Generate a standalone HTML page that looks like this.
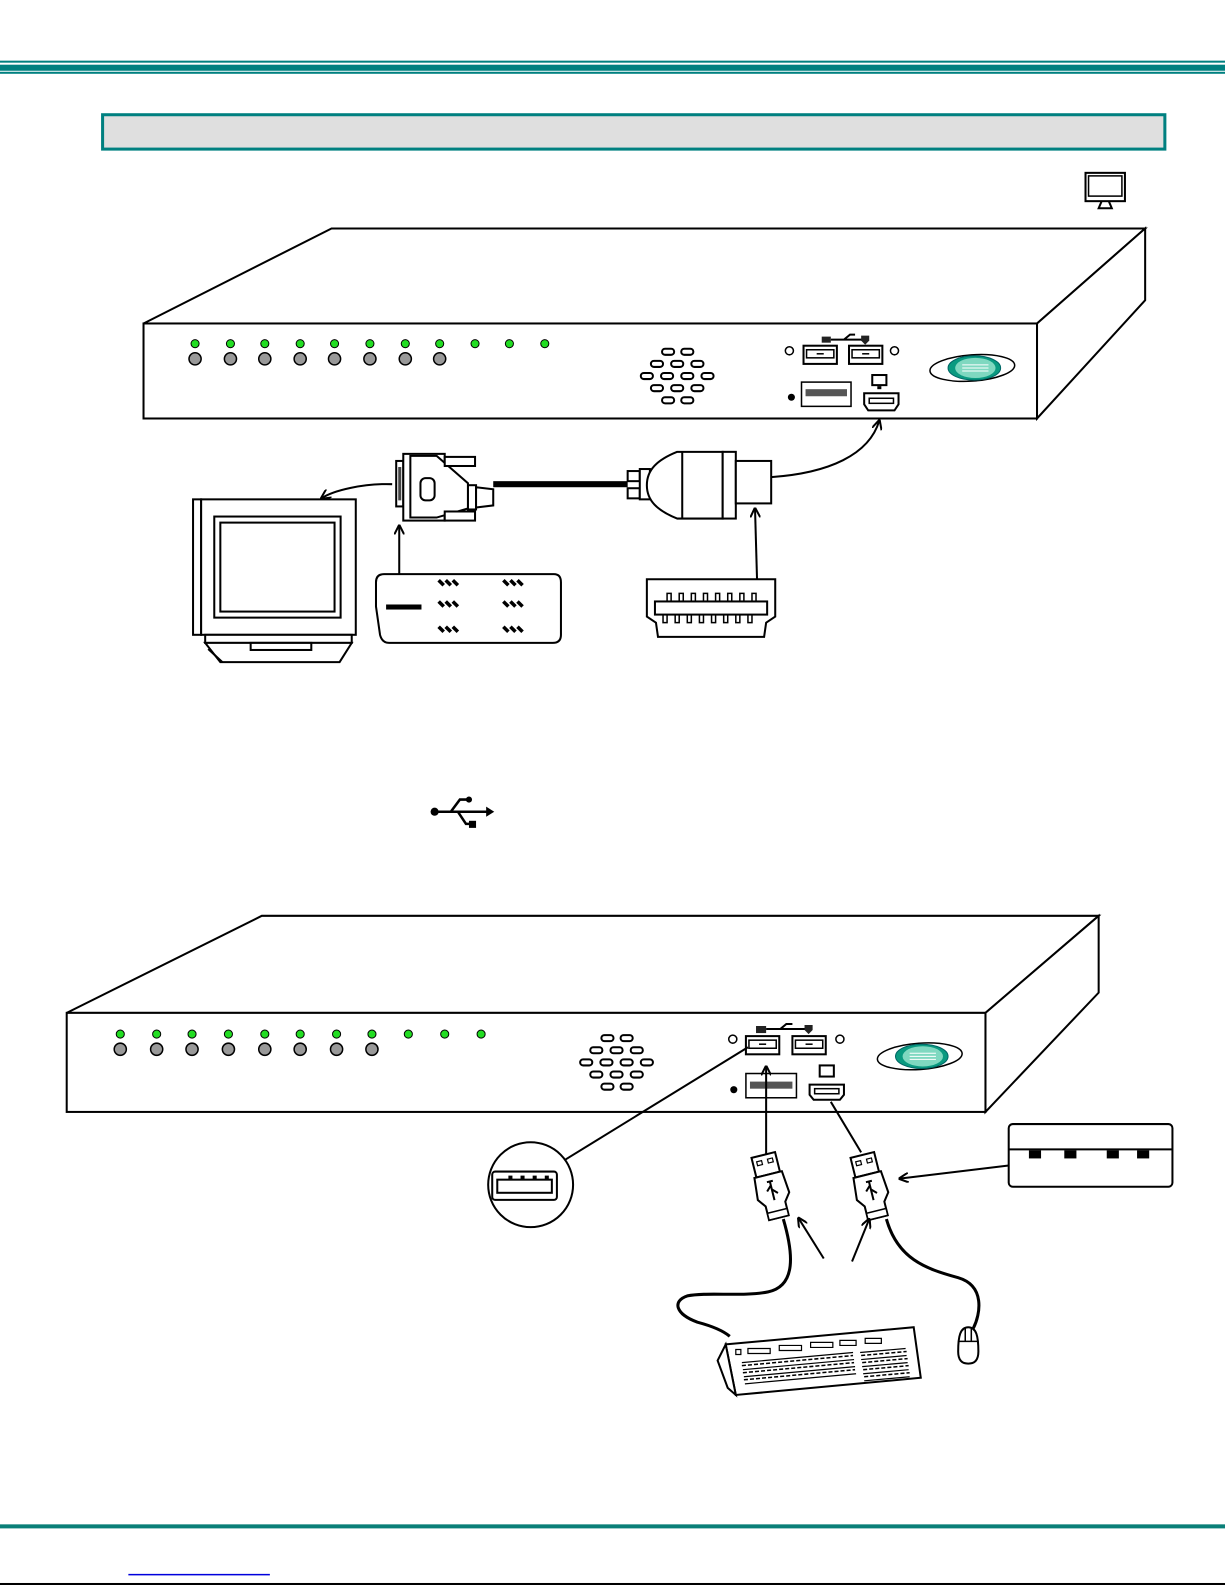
<!DOCTYPE html>
<html><head><meta charset="utf-8"><style>
html,body{margin:0;padding:0;background:#fff;}
svg{display:block;}
</style></head><body>
<svg width="1225" height="1585" viewBox="0 0 1212 1568" preserveAspectRatio="none" xmlns="http://www.w3.org/2000/svg" font-family="Liberation Sans, sans-serif">
<defs>
<marker id="ah" markerWidth="10" markerHeight="10" refX="9" refY="5" orient="auto" markerUnits="userSpaceOnUse">
<path d="M0,0 L10,5 L0,10" fill="none" stroke="#000" stroke-width="2"/>
</marker>
<g id="spk" fill="#fff" stroke="#000" stroke-width="2">
<rect x="-9" y="-3" width="12" height="6" rx="3"/><rect x="10" y="-3" width="12" height="6" rx="3"/>
<rect x="-20" y="9" width="12" height="6" rx="3"/><rect x="0" y="9" width="12" height="6" rx="3"/><rect x="20" y="9" width="12" height="6" rx="3"/>
<rect x="-30" y="21" width="12" height="6" rx="3"/><rect x="-10" y="21" width="12" height="6" rx="3"/><rect x="10" y="21" width="12" height="6" rx="3"/><rect x="30" y="21" width="12" height="6" rx="3"/>
<rect x="-20" y="33" width="12" height="6" rx="3"/><rect x="0" y="33" width="12" height="6" rx="3"/><rect x="20" y="33" width="12" height="6" rx="3"/>
<rect x="-9" y="45" width="12" height="6" rx="3"/><rect x="10" y="45" width="12" height="6" rx="3"/>
</g>
<g id="usbp">
<rect x="0" y="0" width="33" height="18" fill="#fff" stroke="#000" stroke-width="2"/>
<rect x="3" y="4" width="27" height="8" fill="#fff" stroke="#000" stroke-width="1.5"/>
<line x1="13" y1="8" x2="20" y2="8" stroke="#000" stroke-width="1.5"/>
</g>
<g id="logo">
<ellipse cx="0" cy="0" rx="42" ry="13" fill="none" stroke="#000" stroke-width="1.5" transform="rotate(-4)"/>
<ellipse cx="2" cy="0" rx="26" ry="12" fill="#0a9a80" stroke="#066" stroke-width="1"/>
<ellipse cx="3" cy="0" rx="20" ry="10" fill="#7fd8c0"/>
<line x1="-10" y1="-3" x2="16" y2="-3" stroke="#fff" stroke-width="1"/><line x1="-10" y1="0" x2="16" y2="0" stroke="#fff" stroke-width="1"/><line x1="-10" y1="3" x2="16" y2="3" stroke="#fff" stroke-width="1"/>
</g>
<g id="plug">
<rect x="-12" y="-20" width="24" height="20" fill="#fff" stroke="#000" stroke-width="2"/>
<rect x="-8" y="-15" width="5" height="4" fill="none" stroke="#000" stroke-width="1.2"/><rect x="3" y="-15" width="5" height="4" fill="none" stroke="#000" stroke-width="1.2"/>
<path d="M-14,0 L14,0 L16,22 L10,30 L10,44 L-10,44 L-10,30 L-16,22 Z" fill="#fff" stroke="#000" stroke-width="2"/>
<path d="M0,6 L0,26 M0,11 L-5,16 M0,15 L5,20 M-3,7 L3,7" stroke="#000" stroke-width="2" fill="none"/>
<rect x="-10" y="37" width="20" height="7" fill="#fff" stroke="#000" stroke-width="1.5"/>
</g>
</defs>

<rect x="0" y="60" width="1212" height="2" fill="#008080"/>
<rect x="0" y="64" width="1212" height="6" fill="#008080"/>
<rect x="0" y="71" width="1212" height="2" fill="#008080"/>
<rect x="101.5" y="113.5" width="1051" height="34" fill="#dfdfdf" stroke="#008080" stroke-width="3"/>

<rect x="1074" y="171" width="39" height="28" fill="#fff" stroke="#000" stroke-width="2"/>
<rect x="1077" y="174" width="33" height="20" fill="#fff" stroke="#000" stroke-width="1.5"/>
<path d="M1090,199 L1087,206 L1100,206 L1097,199" fill="none" stroke="#000" stroke-width="2"/>

<!-- TOP DEVICE -->
<g stroke="#000" stroke-width="2" fill="#fff">
<polygon points="142,320 328,226 1133,226 1026,320"/>
<polygon points="1026,320 1133,226 1133,297 1026,414"/>
<rect x="142" y="320" width="884" height="94"/>
</g>
<g fill="#22dd22" stroke="#000" stroke-width="1">
<circle cx="193" cy="340" r="4"/><circle cx="228" cy="340" r="4"/><circle cx="262" cy="340" r="4"/><circle cx="297" cy="340" r="4"/><circle cx="331" cy="340" r="4"/><circle cx="366" cy="340" r="4"/><circle cx="401" cy="340" r="4"/><circle cx="435" cy="340" r="4"/><circle cx="470" cy="340" r="4"/><circle cx="504" cy="340" r="4"/><circle cx="539" cy="340" r="4"/>
</g>
<g fill="#999" stroke="#000" stroke-width="1.5">
<circle cx="193" cy="355" r="6"/><circle cx="228" cy="355" r="6"/><circle cx="262" cy="355" r="6"/><circle cx="297" cy="355" r="6"/><circle cx="331" cy="355" r="6"/><circle cx="366" cy="355" r="6"/><circle cx="401" cy="355" r="6"/><circle cx="435" cy="355" r="6"/>
</g>
<use href="#spk" x="664" y="348"/>
<use href="#usbp" x="795" y="342"/><use href="#usbp" x="840" y="342"/>
<circle cx="781" cy="347" r="4" fill="#fff" stroke="#000" stroke-width="1.5"/>
<circle cx="885" cy="347" r="4" fill="#fff" stroke="#000" stroke-width="1.5"/>
<rect x="813" y="333" width="9" height="6" fill="#222"/>
<path d="M822,336 L856,336 M835,336 L841,331 L846,331" stroke="#000" stroke-width="2" fill="none"/>
<path d="M852,332 L860,332 L860,337 L856,341 L852,337 Z" fill="#222"/>
<rect x="793" y="378" width="49" height="24" fill="#fff" stroke="#000" stroke-width="1.5"/>
<rect x="797" y="385" width="41" height="7" fill="#555"/>
<circle cx="783" cy="393" r="3.5" fill="#000"/>
<rect x="862" y="370" width="16" height="12" fill="#000"/><rect x="864" y="372" width="12" height="8" fill="#fff"/><rect x="868" y="382" width="4" height="3" fill="#000"/>
<path d="M855,389 L889,389 L889,400 L885,406 L859,406 L855,400 Z" fill="#fff" stroke="#000" stroke-width="2"/>
<rect x="860" y="394" width="24" height="5" fill="none" stroke="#000" stroke-width="1.5"/>
<use href="#logo" x="962" y="364"/>

<!-- monitor -->
<g stroke="#000" stroke-width="2" fill="#fff">
<rect x="191" y="494" width="8" height="134"/>
<rect x="199" y="494" width="153" height="134"/>
<rect x="212" y="511" width="125" height="100"/>
<rect x="218" y="517" width="113" height="88"/>
<rect x="203" y="628" width="145" height="8"/>
<polygon points="203,636 348,636 336,655 218,655"/>
<rect x="248" y="636" width="60" height="7"/>
<line x1="206" y1="642" x2="220" y2="655"/>
</g>
<path d="M388,479 C360,478 330,485 318,493" fill="none" stroke="#000" stroke-width="2" marker-end="url(#ah)"/>

<!-- DVI connector -->
<g stroke="#000" stroke-width="2" fill="#fff">
<rect x="392" y="456" width="7" height="45"/>
<rect x="399" y="449" width="41" height="66"/>
<polygon points="406,451 432,451 463,478 463,503 432,512 406,512"/>
<rect x="440" y="452" width="30" height="9"/><rect x="440" y="506" width="30" height="9"/>
<rect x="463" y="480" width="8" height="24"/>
<polygon points="471,482 488,484 488,500 471,502"/>
<rect x="416" y="473" width="14" height="22" rx="5"/>
</g>
<rect x="394" y="462" width="3" height="33" fill="#444"/>
<rect x="488" y="476" width="133" height="6" fill="#000"/>

<!-- HDMI plug -->
<g stroke="#000" stroke-width="2" fill="#fff">
<rect x="621" y="466" width="12" height="10"/><rect x="621" y="483" width="12" height="10"/>
<rect x="633" y="464" width="10" height="30"/>
<path d="M670,447 L715,447 L715,513 L670,513 C650,505 640,495 640,480 C640,465 650,455 670,447 Z"/>
<line x1="675" y1="447" x2="675" y2="513"/>
<rect x="715" y="447" width="13" height="66"/>
<rect x="728" y="456" width="35" height="42"/>
</g>
<path d="M763,472 C820,468 860,450 870,416" fill="none" stroke="#000" stroke-width="2" marker-end="url(#ah)"/>

<!-- DVI pinout -->
<path d="M380,568 L548,568 Q555,568 555,576 L555,628 Q555,636 547,636 L385,636 Q378,636 376,628 L372,600 L372,576 Q372,568 380,568 Z" fill="#fff" stroke="#000" stroke-width="2"/>
<rect x="382" y="598" width="35" height="5" fill="#000"/>
<g stroke="#000" stroke-width="3.5">
<path d="M434,574 l5,5 M441,574 l5,5 M448,574 l5,5 M498,574 l5,5 M505,574 l5,5 M512,574 l5,5"/>
<path d="M434,595 l5,5 M441,595 l5,5 M448,595 l5,5 M498,595 l5,5 M505,595 l5,5 M512,595 l5,5"/>
<path d="M434,620 l5,5 M441,620 l5,5 M448,620 l5,5 M498,620 l5,5 M505,620 l5,5 M512,620 l5,5"/>
</g>
<line x1="395" y1="568" x2="395" y2="520" stroke="#000" stroke-width="2" marker-end="url(#ah)"/>

<!-- HDMI pinout -->
<path d="M640,573 L767,573 L767,610 L758,616 L756,630 L651,630 L649,616 L640,610 Z" fill="#fff" stroke="#000" stroke-width="2"/>
<rect x="648" y="595" width="111" height="13" fill="#fff" stroke="#000" stroke-width="2"/>
<g fill="none" stroke="#000" stroke-width="1.5">
<path d="M660,595v-8h4v8 M672,595v-8h4v8 M684,595v-8h4v8 M696,595v-8h4v8 M708,595v-8h4v8 M720,595v-8h4v8 M732,595v-8h4v8 M744,595v-8h4v8"/>
<path d="M656,608v8h4v-8 M668,608v8h4v-8 M680,608v8h4v-8 M692,608v8h4v-8 M704,608v8h4v-8 M716,608v8h4v-8 M728,608v8h4v-8 M740,608v8h4v-8"/>
</g>
<line x1="749" y1="573" x2="747" y2="503" stroke="#000" stroke-width="2" marker-end="url(#ah)"/>

<!-- USB symbol -->
<g stroke="#000" stroke-width="2.5" fill="none">
<line x1="430" y1="803" x2="482" y2="803"/>
<path d="M446,803 L455,791 L462,791"/>
<path d="M453,803 L461,815 L466,815"/>
</g>
<circle cx="430" cy="803" r="4" fill="#000"/>
<circle cx="464" cy="791" r="3" fill="#000"/>
<rect x="464" y="812" width="7" height="7" fill="#000"/>
<path d="M481,798 L489,803 L481,808 Z" fill="#000"/>

<!-- BOTTOM DEVICE -->
<g stroke="#000" stroke-width="2" fill="#fff">
<polygon points="66,1002 259,906 1087,906 975,1002"/>
<polygon points="975,1002 1087,906 1087,982 975,1100"/>
<rect x="66" y="1002" width="909" height="98"/>
</g>
<g fill="#22dd22" stroke="#000" stroke-width="1">
<circle cx="119" cy="1023" r="4"/><circle cx="155" cy="1023" r="4"/><circle cx="190" cy="1023" r="4"/><circle cx="226" cy="1023" r="4"/><circle cx="262" cy="1023" r="4"/><circle cx="297" cy="1023" r="4"/><circle cx="333" cy="1023" r="4"/><circle cx="368" cy="1023" r="4"/><circle cx="404" cy="1023" r="4"/><circle cx="440" cy="1023" r="4"/><circle cx="476" cy="1023" r="4"/>
</g>
<g fill="#999" stroke="#000" stroke-width="1.5">
<circle cx="119" cy="1038" r="6"/><circle cx="155" cy="1038" r="6"/><circle cx="190" cy="1038" r="6"/><circle cx="226" cy="1038" r="6"/><circle cx="262" cy="1038" r="6"/><circle cx="297" cy="1038" r="6"/><circle cx="333" cy="1038" r="6"/><circle cx="368" cy="1038" r="6"/>
</g>
<use href="#spk" x="604" y="1027"/>
<use href="#usbp" x="738" y="1025"/><use href="#usbp" x="784" y="1025"/>
<circle cx="725" cy="1028" r="4" fill="#fff" stroke="#000" stroke-width="1.5"/>
<circle cx="831" cy="1028" r="4" fill="#fff" stroke="#000" stroke-width="1.5"/>
<rect x="748" y="1015" width="10" height="7" fill="#222"/>
<path d="M758,1018 L800,1018 M772,1018 L778,1013 L784,1013" stroke="#000" stroke-width="2" fill="none"/>
<path d="M796,1014 L804,1014 L804,1019 L800,1023 L796,1019 Z" fill="#222"/>
<rect x="738" y="1062" width="50" height="24" fill="#fff" stroke="#000" stroke-width="1.5"/>
<rect x="742" y="1070" width="42" height="7" fill="#555"/>
<circle cx="726" cy="1078" r="3.5" fill="#000"/>
<rect x="810" y="1053" width="16" height="13" fill="#000"/><rect x="812" y="1055" width="12" height="9" fill="#fff"/>
<path d="M801,1073 L835,1073 L835,1083 L831,1088 L805,1088 L801,1083 Z" fill="#fff" stroke="#000" stroke-width="2"/>
<rect x="806" y="1077" width="24" height="5" fill="none" stroke="#000" stroke-width="1.5"/>
<use href="#logo" x="910" y="1045"/>

<!-- magnifier -->
<line x1="558" y1="1148" x2="740" y2="1036" stroke="#000" stroke-width="2"/>
<circle cx="525" cy="1172" r="42" fill="#fff" stroke="#000" stroke-width="2"/>
<rect x="487" y="1159" width="64" height="28" rx="3" fill="#fff" stroke="#000" stroke-width="2"/>
<rect x="492" y="1167" width="54" height="13" fill="#fff" stroke="#000" stroke-width="2"/>
<g fill="#000"><rect x="503" y="1163" width="4" height="4"/><rect x="515" y="1163" width="4" height="4"/><rect x="527" y="1163" width="4" height="4"/><rect x="539" y="1163" width="4" height="4"/></g>

<!-- lines from ports -->
<line x1="758" y1="1143" x2="758" y2="1055" stroke="#000" stroke-width="2" marker-end="url(#ah)"/>
<line x1="852" y1="1140" x2="822" y2="1090" stroke="#000" stroke-width="2"/>

<!-- USB plugs -->
<use href="#plug" transform="translate(760,1162) rotate(-14)"/>
<use href="#plug" transform="translate(858,1162) rotate(-14)"/>

<!-- cables -->
<path d="M775,1206 C785,1240 788,1272 760,1278 C735,1283 700,1278 680,1282 C665,1287 668,1300 690,1308 C705,1312 715,1316 722,1322" fill="none" stroke="#000" stroke-width="3"/>
<path d="M877,1206 C888,1245 915,1255 948,1264 C975,1272 970,1300 963,1314" fill="none" stroke="#000" stroke-width="3"/>

<!-- arrows -->
<line x1="815" y1="1245" x2="790" y2="1205" stroke="#000" stroke-width="2" marker-end="url(#ah)"/>
<line x1="843" y1="1248" x2="860" y2="1206" stroke="#000" stroke-width="2" marker-end="url(#ah)"/>

<!-- hub -->
<rect x="998" y="1112" width="162" height="62" rx="4" fill="#fff" stroke="#000" stroke-width="2"/>
<line x1="998" y1="1137" x2="1160" y2="1137" stroke="#000" stroke-width="2"/>
<g fill="#000"><rect x="1018" y="1138" width="12" height="8"/><rect x="1053" y="1138" width="12" height="8"/><rect x="1095" y="1138" width="12" height="8"/><rect x="1125" y="1138" width="12" height="8"/></g>
<line x1="998" y1="1153" x2="890" y2="1166" stroke="#000" stroke-width="2" marker-end="url(#ah)"/>

<!-- keyboard -->
<g transform="translate(6,8)">
<g stroke="#000" stroke-width="2" fill="#fff">
<polygon points="712,1322 898,1305 905,1355 722,1372"/>
<polygon points="712,1322 704,1338 714,1365 722,1372"/>
</g>
<g fill="none" stroke="#000" stroke-width="1.2">
<path d="M722,1327 h5v5h-5z M734,1326 h22v5h-22z M765,1323 h22v5h-22z M796,1320 h22v5h-22z M825,1318 h16v5h-16z M850,1316 h16v5h-16z"/>
<path d="M728,1340 l110,-10 M729,1347 l110,-10 M730,1354 l110,-10 M731,1361 l110,-10"/>
<path d="M845,1330 l45,-4 M846,1337 l45,-4 M847,1344 l45,-4 M848,1351 l45,-4 M849,1358 l45,-4"/>
</g>
<g stroke="#000" stroke-width="1.5" fill="none" stroke-dasharray="4,2">
<path d="M728,1343 l110,-10 M729,1350 l110,-10 M730,1357 l110,-10 M846,1333 l45,-4 M847,1340 l45,-4 M848,1347 l45,-4 M849,1354 l45,-4"/>
</g>
</g>

<!-- mouse -->
<path d="M958,1313 C966,1313 968,1322 968,1337 C968,1346 964,1349 958,1349 C952,1349 948,1346 948,1337 C948,1322 950,1313 958,1313 Z" fill="#fff" stroke="#000" stroke-width="2"/>
<path d="M948,1327 L968,1327 M955,1313 L955,1327 M961,1313 L961,1327" stroke="#000" stroke-width="1.5"/>

<!-- footer -->
<rect x="0" y="1508" width="1212" height="4" fill="#0a7f78"/>
<rect x="127" y="1557" width="140" height="1.5" fill="#0000dd"/>
<rect x="0" y="1566" width="1212" height="2" fill="#000"/>
</svg>
</body></html>
